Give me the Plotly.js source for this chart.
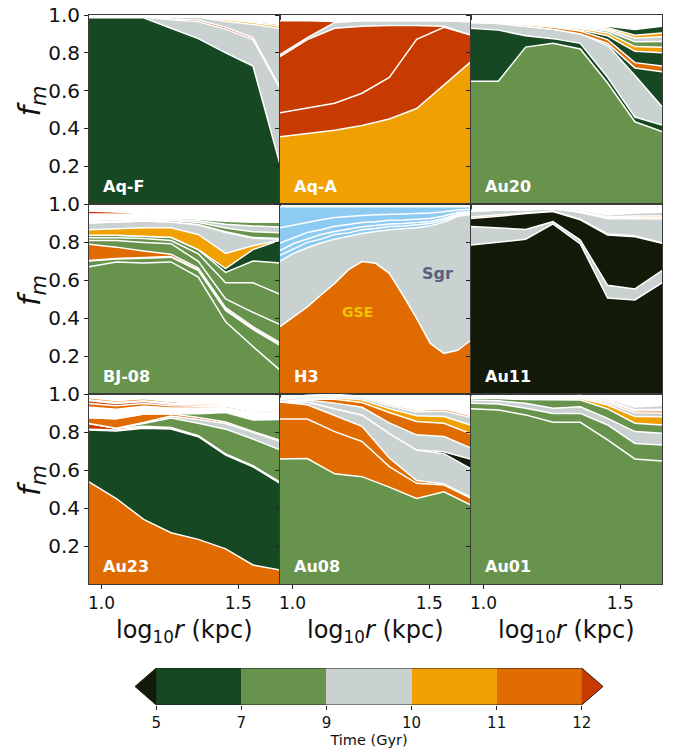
<!DOCTYPE html>
<html>
<head>
<meta charset="utf-8">
<script src="https://cdn.plot.ly/plotly-3.0.1.min.js"></script>
<style>
  html, body { margin: 0; padding: 0; background: #fff; }
  #chart { width: 673px; height: 750px; }
</style>
</head>
<body>
<div id="chart"></div>
<script>
// Radial bins, log10(r / kpc)
const LOG_R = [0.954, 1.054, 1.154, 1.254, 1.354, 1.454, 1.554, 1.653];
const LOG_R_H3 = [0.954, 1.004, 1.054, 1.104, 1.154, 1.204, 1.254, 1.304,
                  1.354, 1.404, 1.454, 1.504, 1.554, 1.604, 1.653];

// Accretion-time bins (Gyr) and their colours
const TIME_BOUNDS = ['5', '7', '9', '10', '11', '12'];
const TIME_COLORS = {
  k: '#131a08',   // < 5 Gyr
  dg: '#164824',  // 5-7
  g: '#68934d',   // 7-9
  gr: '#c9d1d1',  // 9-10
  y: '#f0a000',   // 10-11
  o: '#e06b00',   // 11-12
  r: '#c73b00',   // > 12
  b: '#8ecbf2',   // H3 remaining substructure
  none: 'rgba(0,0,0,0)'
};
const BAR_KEYS = ['dg', 'g', 'gr', 'y', 'o'];

// ---- mass fractions per progenitor, stacked bottom to top ----
// Aq-F
const AQF_1 = [0.985, 0.985, 0.985, 0.930, 0.875, 0.800, 0.730, 0.210];
const AQF_2 = [0.005, 0.005, 0.005, 0.045, 0.090, 0.125, 0.140, 0.400];
const AQF_3 = [0.000, 0.000, 0.000, 0.004, 0.008, 0.010, 0.010, 0.008];
const AQF_4 = [0.004, 0.004, 0.005, 0.012, 0.015, 0.030, 0.070, 0.310];
const AQF_5 = [0.000, 0.000, 0.000, 0.000, 0.004, 0.010, 0.010, 0.012];
const AQF_6 = [0.000, 0.000, 0.000, 0.000, 0.000, 0.004, 0.006, 0.010];

// Aq-A
const AQA_1 = [0.356, 0.372, 0.390, 0.415, 0.450, 0.505, 0.630, 0.753];
const AQA_2 = [0.127, 0.138, 0.143, 0.171, 0.220, 0.366, 0.305, 0.141];
const AQA_3 = [0.297, 0.360, 0.397, 0.354, 0.275, 0.074, 0.005, 0.000];
const AQA_4 = [0.010, 0.010, 0.030, 0.030, 0.025, 0.025, 0.030, 0.070];
const AQA_5 = [0.180, 0.090, 0.005, 0.000, 0.000, 0.000, 0.000, 0.000];

// Au20
const AU20_1 = [0.650, 0.650, 0.830, 0.850, 0.820, 0.640, 0.435, 0.383];
const AU20_2 = [0.280, 0.270, 0.060, 0.025, 0.030, 0.030, 0.025, 0.035];
const AU20_3 = [0.030, 0.035, 0.050, 0.050, 0.050, 0.170, 0.220, 0.097];
const AU20_4 = [0.000, 0.000, 0.000, 0.000, 0.000, 0.010, 0.040, 0.185];
const AU20_5 = [0.006, 0.006, 0.008, 0.010, 0.015, 0.020, 0.028, 0.030];
const AU20_6 = [0.000, 0.000, 0.000, 0.003, 0.005, 0.020, 0.060, 0.070];
const AU20_7 = [0.004, 0.004, 0.005, 0.005, 0.008, 0.015, 0.025, 0.030];
const AU20_8 = [0.000, 0.000, 0.000, 0.000, 0.005, 0.010, 0.025, 0.030];
const AU20_9 = [0.000, 0.000, 0.000, 0.000, 0.005, 0.010, 0.020, 0.025];
const AU20_10 = [0.000, 0.000, 0.000, 0.000, 0.003, 0.008, 0.015, 0.020];
const AU20_11 = [0.000, 0.000, 0.000, 0.000, 0.000, 0.008, 0.030, 0.035];

// BJ-08
const BJ08_1 = [0.670, 0.695, 0.690, 0.695, 0.615, 0.380, 0.250, 0.126];
const BJ08_2 = [0.030, 0.015, 0.025, 0.025, 0.035, 0.060, 0.090, 0.130];
const BJ08_3 = [0.003, 0.003, 0.003, 0.004, 0.005, 0.006, 0.006, 0.006];
const BJ08_4 = [0.085, 0.060, 0.035, 0.012, 0.008, 0.008, 0.008, 0.008];
const BJ08_5 = [0.020, 0.035, 0.045, 0.055, 0.035, 0.046, 0.076, 0.095];
const BJ08_6 = [0.015, 0.015, 0.020, 0.017, 0.040, 0.085, 0.155, 0.160];
const BJ08_7 = [0.012, 0.012, 0.012, 0.017, 0.022, 0.055, 0.115, 0.165];
const BJ08_8 = [0.000, 0.000, 0.000, 0.000, 0.000, 0.020, 0.060, 0.120];
const BJ08_9 = [0.030, 0.035, 0.045, 0.050, 0.080, 0.080, 0.020, 0.000];
const BJ08_10 = [0.035, 0.035, 0.035, 0.030, 0.050, 0.110, 0.040, 0.005];
const BJ08_11 = [0.000, 0.000, 0.000, 0.000, 0.002, 0.004, 0.004, 0.004];
const BJ08_12 = [0.005, 0.005, 0.005, 0.008, 0.010, 0.020, 0.030, 0.030];
const BJ08_13 = [0.010, 0.008, 0.008, 0.008, 0.010, 0.020, 0.030, 0.030];
const BJ08_14 = [0.003, 0.003, 0.003, 0.005, 0.008, 0.015, 0.020, 0.025];
const BJ08_15 = [0.030, 0.025, 0.020, 0.020, 0.020, 0.020, 0.020, 0.020];
const BJ08_16 = [0.015, 0.012, 0.003, 0.000, 0.000, 0.000, 0.000, 0.000];
const BJ08_17 = [0.003, 0.003, 0.003, 0.003, 0.003, 0.003, 0.003, 0.003];

// H3 (observed)
const H3_GSE = [0.354, 0.407, 0.459, 0.521, 0.582, 0.653, 0.697, 0.688,
                0.635, 0.521, 0.398, 0.266, 0.214, 0.230, 0.284];
const H3_SGR = [0.346, 0.333, 0.311, 0.274, 0.233, 0.177, 0.148, 0.167,
                0.230, 0.349, 0.477, 0.619, 0.691, 0.705, 0.661];
const H3_B1 = [0.030, 0.022, 0.028, 0.020, 0.024, 0.018, 0.020, 0.016,
               0.017, 0.014, 0.015, 0.012, 0.010, 0.006, 0.005];
const H3_B2 = [0.025, 0.030, 0.018, 0.024, 0.016, 0.020, 0.015, 0.016,
               0.013, 0.014, 0.012, 0.011, 0.009, 0.006, 0.005];
const H3_B3 = [0.040, 0.030, 0.034, 0.026, 0.028, 0.024, 0.022, 0.020,
               0.020, 0.018, 0.018, 0.016, 0.013, 0.008, 0.006];
const H3_B4 = [0.080, 0.068, 0.055, 0.052, 0.046, 0.043, 0.038, 0.036,
               0.032, 0.032, 0.030, 0.028, 0.022, 0.014, 0.011];
const H3_B5 = [0.110, 0.095, 0.080, 0.068, 0.056, 0.050, 0.045, 0.042,
               0.038, 0.037, 0.035, 0.033, 0.026, 0.016, 0.013];

// Au11
const AU11_1 = [0.784, 0.800, 0.814, 0.895, 0.790, 0.505, 0.495, 0.585];
const AU11_2 = [0.098, 0.074, 0.052, 0.012, 0.020, 0.067, 0.058, 0.065];
const AU11_3 = [0.042, 0.061, 0.084, 0.053, 0.107, 0.265, 0.275, 0.143];
const AU11_4 = [0.008, 0.008, 0.005, 0.003, 0.003, 0.005, 0.005, 0.003];
const AU11_5 = [0.030, 0.025, 0.015, 0.012, 0.035, 0.080, 0.090, 0.125];
const AU11_6 = [0.000, 0.000, 0.000, 0.000, 0.003, 0.006, 0.008, 0.008];
const AU11_7 = [0.000, 0.000, 0.000, 0.000, 0.002, 0.004, 0.006, 0.008];
const AU11_8 = [0.005, 0.005, 0.005, 0.005, 0.010, 0.010, 0.015, 0.020];

// Au23
const AU23_1 = [0.538, 0.450, 0.340, 0.270, 0.235, 0.185, 0.100, 0.074];
const AU23_2 = [0.272, 0.355, 0.480, 0.546, 0.540, 0.494, 0.517, 0.456];
const AU23_3 = [0.005, 0.005, 0.006, 0.006, 0.006, 0.006, 0.006, 0.006];
const AU23_4 = [0.030, 0.010, 0.004, 0.002, 0.000, 0.000, 0.000, 0.000];
const AU23_5 = [0.000, 0.000, 0.015, 0.050, 0.065, 0.130, 0.140, 0.170];
const AU23_6 = [0.000, 0.000, 0.005, 0.010, 0.020, 0.030, 0.035, 0.045];
const AU23_7 = [0.030, 0.050, 0.045, 0.012, 0.010, 0.008, 0.005, 0.005];
const AU23_8 = [0.000, 0.000, 0.000, 0.000, 0.020, 0.050, 0.060, 0.110];
const AU23_9 = [0.055, 0.050, 0.040, 0.030, 0.030, 0.025, 0.040, 0.040];
const AU23_10 = [0.020, 0.018, 0.015, 0.012, 0.010, 0.008, 0.006, 0.006];
const AU23_11 = [0.015, 0.012, 0.010, 0.008, 0.006, 0.005, 0.004, 0.004];
const AU23_12 = [0.005, 0.005, 0.005, 0.005, 0.005, 0.005, 0.005, 0.005];
const AU23_13 = [0.010, 0.010, 0.010, 0.008, 0.006, 0.005, 0.005, 0.005];

// Au08
const AU08_1 = [0.658, 0.660, 0.580, 0.565, 0.510, 0.450, 0.485, 0.416];
const AU08_2 = [0.210, 0.208, 0.222, 0.185, 0.108, 0.080, 0.036, 0.035];
const AU08_3 = [0.090, 0.075, 0.085, 0.080, 0.045, 0.015, 0.005, 0.005];
const AU08_4 = [0.000, 0.015, 0.035, 0.060, 0.130, 0.160, 0.160, 0.150];
const AU08_5 = [0.000, 0.000, 0.000, 0.000, 0.000, 0.000, 0.010, 0.050];
const AU08_6 = [0.000, 0.010, 0.030, 0.040, 0.055, 0.080, 0.080, 0.060];
const AU08_7 = [0.000, 0.005, 0.020, 0.025, 0.055, 0.070, 0.070, 0.075];
const AU08_8 = [0.000, 0.003, 0.008, 0.015, 0.020, 0.030, 0.035, 0.045];
const AU08_9 = [0.010, 0.010, 0.010, 0.010, 0.015, 0.020, 0.030, 0.040];
const AU08_10 = [0.005, 0.005, 0.005, 0.005, 0.008, 0.008, 0.010, 0.010];
const AU08_11 = [0.003, 0.003, 0.003, 0.003, 0.004, 0.004, 0.005, 0.005];

// Au01
const AU01_1 = [0.922, 0.916, 0.890, 0.851, 0.851, 0.758, 0.658, 0.647];
const AU01_2 = [0.029, 0.031, 0.035, 0.047, 0.047, 0.079, 0.082, 0.084];
const AU01_3 = [0.017, 0.017, 0.026, 0.027, 0.035, 0.035, 0.062, 0.062];
const AU01_4 = [0.009, 0.012, 0.020, 0.043, 0.035, 0.050, 0.044, 0.044];
const AU01_5 = [0.003, 0.003, 0.005, 0.005, 0.008, 0.020, 0.035, 0.043];
const AU01_6 = [0.003, 0.003, 0.004, 0.005, 0.005, 0.010, 0.020, 0.020];
const AU01_7 = [0.000, 0.000, 0.000, 0.002, 0.004, 0.008, 0.010, 0.012];
const AU01_8 = [0.000, 0.000, 0.000, 0.000, 0.002, 0.004, 0.006, 0.008];
const AU01_9 = [0.005, 0.005, 0.005, 0.005, 0.005, 0.010, 0.015, 0.020];

const PANELS = [
  { name: 'Aq-F', x: LOG_R, layers: [['dg', AQF_1], ['gr', AQF_2], ['r', AQF_3], ['gr', AQF_4], ['y', AQF_5], ['o', AQF_6]] },
  { name: 'Aq-A', x: LOG_R, layers: [['y', AQA_1], ['r', AQA_2], ['r', AQA_3], ['gr', AQA_4], ['r', AQA_5]] },
  { name: 'Au20', x: LOG_R, layers: [['g', AU20_1], ['dg', AU20_2], ['gr', AU20_3], ['dg', AU20_4], ['o', AU20_5], ['dg', AU20_6],
                                     ['y', AU20_7], ['g', AU20_8], ['gr', AU20_9], ['y', AU20_10], ['dg', AU20_11]] },
  { name: 'BJ-08', x: LOG_R, layers: [['g', BJ08_1], ['g', BJ08_2], ['r', BJ08_3], ['o', BJ08_4], ['g', BJ08_5], ['g', BJ08_6],
                                      ['g', BJ08_7], ['dg', BJ08_8], ['y', BJ08_9], ['gr', BJ08_10], ['k', BJ08_11], ['g', BJ08_12],
                                      ['gr', BJ08_13], ['g', BJ08_14], ['none', BJ08_15], ['r', BJ08_16], ['o', BJ08_17]] },
  { name: 'H3', x: LOG_R_H3, layers: [['o', H3_GSE], ['gr', H3_SGR], ['b', H3_B1], ['b', H3_B2], ['b', H3_B3], ['b', H3_B4], ['b', H3_B5]] },
  { name: 'Au11', x: LOG_R, layers: [['k', AU11_1], ['gr', AU11_2], ['k', AU11_3], ['y', AU11_4], ['gr', AU11_5], ['y', AU11_6],
                                     ['o', AU11_7], ['gr', AU11_8]] },
  { name: 'Au23', x: LOG_R, layers: [['o', AU23_1], ['dg', AU23_2], ['o', AU23_3], ['r', AU23_4], ['g', AU23_5], ['gr', AU23_6],
                                     ['o', AU23_7], ['g', AU23_8], ['none', AU23_9], ['o', AU23_10], ['r', AU23_11], ['y', AU23_12], ['o', AU23_13]] },
  { name: 'Au08', x: LOG_R, layers: [['g', AU08_1], ['o', AU08_2], ['o', AU08_3], ['gr', AU08_4], ['k', AU08_5], ['gr', AU08_6],
                                     ['o', AU08_7], ['y', AU08_8], ['gr', AU08_9], ['o', AU08_10], ['r', AU08_11]] },
  { name: 'Au01', x: LOG_R, layers: [['g', AU01_1], ['g', AU01_2], ['gr', AU01_3], ['g', AU01_4], ['y', AU01_5], ['gr', AU01_6],
                                     ['o', AU01_7], ['r', AU01_8], ['gr', AU01_9]] }
];

// ---- page geometry (pixels) ----
const W = 673, H = 750;
const COLS = [[89, 280], [280, 471], [471, 662]];
const ROWS = [[15, 204], [204, 394], [394, 584]];
const FONT = 'DejaVu Sans';

const px = v => v / W;
const py = v => 1 - v / H;

const traces = [];
const layout = {
  width: W, height: H,
  margin: { l: 0, r: 0, t: 0, b: 0 },
  paper_bgcolor: '#fff', plot_bgcolor: '#fff',
  showlegend: false, bargap: 0,
  font: { family: FONT, color: '#111' },
  annotations: []
};

PANELS.forEach((p, k) => {
  const row = Math.floor(k / 3), col = k % 3;
  const n = k + 1;
  const xa = 'xaxis' + n, ya = 'yaxis' + n;
  const xr = 'x' + n, yr = 'y' + n;

  p.layers.forEach(([key, vals]) => {
    traces.push({
      type: 'scatter', mode: 'lines', x: p.x, y: vals,
      xaxis: xr, yaxis: yr, stackgroup: 'stack' + n,
      fillcolor: TIME_COLORS[key],
      line: { color: '#ffffff', width: 1.5, shape: 'linear' },
      hoverinfo: 'skip'
    });
  });

  layout[xa] = {
    domain: [px(COLS[col][0]), px(COLS[col][1])],
    range: [LOG_R[0], LOG_R[LOG_R.length - 1]],
    anchor: yr, showgrid: false, zeroline: false,
    showline: true, mirror: true, linecolor: '#3a3a3a', linewidth: 1,
    tickvals: [1.0, 1.5], ticktext: ['1.0', '1.5'],
    ticks: row === 2 ? 'outside' : '', ticklen: 4, tickcolor: '#222',
    showticklabels: row === 2,
    tickfont: { family: FONT, size: 17, color: '#111' }
  };
  layout[ya] = {
    domain: [py(ROWS[row][1]), py(ROWS[row][0])],
    range: [0, 1], anchor: xr, showgrid: false, zeroline: false,
    showline: true, mirror: true, linecolor: '#3a3a3a', linewidth: 1,
    tickvals: [0.2, 0.4, 0.6, 0.8, 1.0], ticktext: ['0.2', '0.4', '0.6', '0.8', '1.0'],
    ticks: 'outside', ticklen: 4, tickcolor: '#222',
    showticklabels: col === 0,
    tickfont: { family: FONT, size: 20, color: '#111' }
  };

  layout.annotations.push({
    xref: xr + ' domain', yref: yr + ' domain', x: 0.065, y: 0.09,
    xanchor: 'left', yanchor: 'middle', showarrow: false,
    text: p.name, font: { family: FONT, size: 16, color: '#ffffff', weight: 'bold' }
  });

  if (col === 0) {
    layout.annotations.push({
      xref: 'paper', yref: 'paper', x: px(31),
      y: py((ROWS[row][0] + ROWS[row][1]) / 2 - 8),
      xanchor: 'center', yanchor: 'middle', textangle: -90, showarrow: false,
      text: '<i>f</i><sub><i>m</i></sub>', font: { family: FONT, size: 30, color: '#111' }
    });
  }
  if (row === 2) {
    layout.annotations.push({
      xref: 'paper', yref: 'paper', x: px((COLS[col][0] + COLS[col][1]) / 2),
      y: py(631), xanchor: 'center', yanchor: 'middle', showarrow: false,
      text: 'log<sub>10</sub><i>r</i> (kpc)', font: { family: FONT, size: 24, color: '#111' }
    });
  }
});

// Component labels in the H3 panel
layout.annotations.push({
  xref: 'x5', yref: 'y5', x: 1.236, y: 0.432, showarrow: false,
  text: 'GSE', font: { family: FONT, size: 14, color: '#f2c300', weight: 'bold' }
});
layout.annotations.push({
  xref: 'x5', yref: 'y5', x: 1.529, y: 0.632, showarrow: false,
  text: 'Sgr', font: { family: FONT, size: 16, color: '#56617e', weight: 'bold' }
});

// ---- discrete colour bar for accretion time ----
const nSeg = TIME_BOUNDS.length - 1;
const ext = 0.25;
const segX = BAR_KEYS.map((_, i) => i + 0.5);
traces.push({
  type: 'bar', x: segX, y: BAR_KEYS.map(() => 1), base: 0, width: 1,
  marker: { color: BAR_KEYS.map(key => TIME_COLORS[key]), line: { width: 0 } },
  xaxis: 'x10', yaxis: 'y10', hoverinfo: 'skip'
});
traces.push({
  type: 'scatter', mode: 'lines', x: [0, -ext, 0, 0], y: [0, 0.5, 1, 0],
  fill: 'toself', fillcolor: TIME_COLORS.k, line: { width: 0 },
  xaxis: 'x10', yaxis: 'y10', hoverinfo: 'skip'
});
traces.push({
  type: 'scatter', mode: 'lines', x: [nSeg, nSeg + ext, nSeg, nSeg], y: [0, 0.5, 1, 0],
  fill: 'toself', fillcolor: TIME_COLORS.r, line: { width: 0 },
  xaxis: 'x10', yaxis: 'y10', hoverinfo: 'skip'
});
traces.push({
  type: 'scatter', mode: 'lines',
  x: [0, nSeg, nSeg + ext, nSeg, 0, -ext, 0], y: [0, 0, 0.5, 1, 1, 0.5, 0],
  line: { color: '#222', width: 1 }, xaxis: 'x10', yaxis: 'y10', hoverinfo: 'skip'
});

layout.xaxis10 = {
  domain: [px(135), px(603)], range: [-ext, nSeg + ext], anchor: 'y10',
  showgrid: false, zeroline: false, showline: false,
  tickvals: TIME_BOUNDS.map((_, i) => i), ticktext: TIME_BOUNDS,
  ticks: 'outside', ticklen: 4, tickcolor: '#222',
  tickfont: { family: FONT, size: 15, color: '#111' },
  title: { text: 'Time (Gyr)', font: { family: FONT, size: 14.5, color: '#111' }, standoff: 2 }
};
layout.yaxis10 = {
  domain: [py(705), py(668)], range: [0, 1], anchor: 'x10', visible: false
};

Plotly.newPlot('chart', traces, layout, { staticPlot: true, displayModeBar: false });
</script>
</body>
</html>
